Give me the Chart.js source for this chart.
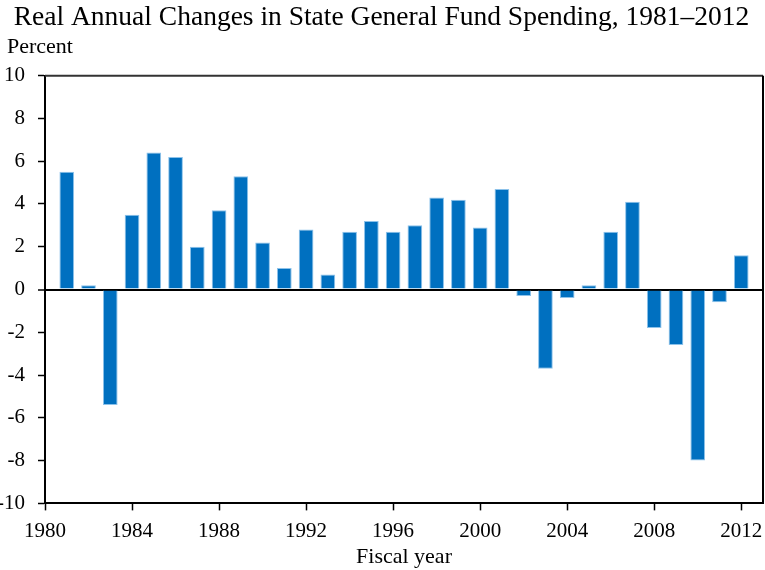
<!DOCTYPE html>
<html>
<head>
<meta charset="utf-8">
<script src="https://cdn.jsdelivr.net/npm/chart.js@4"></script>
<style>
  html, body { margin: 0; padding: 0; background: #fff; }
  #wrap { width: 765px; height: 570px; }
</style>
</head>
<body>
<div id="wrap"><canvas id="spendingChart" width="765" height="570"></canvas></div>
<script>
// fiscal years and real % change in general fund spending
const years = [1981, 1982, 1983, 1984, 1985, 1986, 1987, 1988, 1989, 1990,
               1991, 1992, 1993, 1994, 1995, 1996, 1997, 1998, 1999, 2000,
               2001, 2002, 2003, 2004, 2005, 2006, 2007, 2008, 2009, 2010,
               2011, 2012];
const changes = [5.5, 0.2, -5.4, 3.5, 6.4, 6.2, 2.0, 3.7, 5.3, 2.2,
                 1.0, 2.8, 0.7, 2.7, 3.2, 2.7, 3.0, 4.3, 4.2, 2.9,
                 4.7, -0.3, -3.7, -0.4, 0.2, 2.7, 4.1, -1.8, -2.6, -8.0,
                 -0.6, 1.6];
const xTicks = [1980, 1984, 1988, 1992, 1996, 2000, 2004, 2008, 2012];
const yTicks = [-10, -8, -6, -4, -2, 0, 2, 4, 6, 8, 10];

const serif = 'Liberation Serif, Times New Roman, serif';

// frame lines on top/right of the plot box + the "Percent" unit label
const frameBox = {
    id: 'frameBox',
    afterDraw(chart) {
        const a = chart.chartArea;
        const ctx = chart.ctx;
        ctx.save();
        ctx.strokeStyle = '#333';
        ctx.lineWidth = 2;
        ctx.beginPath();
        ctx.moveTo(a.left, a.top);
        ctx.lineTo(a.right, a.top);
        ctx.stroke();
        ctx.strokeStyle = '#000';
        ctx.beginPath();
        ctx.moveTo(a.right, a.top);
        ctx.lineTo(a.right, a.bottom);
        ctx.stroke();

        ctx.fillStyle = '#000';
        ctx.font = '22px ' + serif;
        ctx.textAlign = 'left';
        ctx.textBaseline = 'alphabetic';
        ctx.fillText('Percent', 7, a.top - 23);
        ctx.restore();
    }
};

const ctx = document.getElementById('spendingChart').getContext('2d');
const spendingChart = new Chart(ctx, {
    type: 'bar',
    data: {
        datasets: [{
            label: 'Real annual change',
            data: years.map((y, i) => ({ x: y, y: changes[i] })),
            backgroundColor: '#0070c0',
            borderColor: '#8cc2ea',
            borderWidth: 1,
            categoryPercentage: 1,
            barPercentage: 0.675
        }]
    },
    options: {
        responsive: false,
        animation: false,
        layout: { padding: { left: 0, right: 2, top: 2, bottom: 0 } },
        plugins: {
            legend: { display: false },
            tooltip: { enabled: false },
            title: {
                display: true,
                text: 'Real Annual Changes in State General Fund Spending, 1981–2012',
                color: '#000',
                font: { family: serif, size: 27.5, weight: 'normal', lineHeight: 1.15 },
                padding: { top: 0, bottom: 42 }
            }
        },
        scales: {
            x: {
                type: 'linear',
                min: 1980,
                max: 2013,
                offset: false,
                afterBuildTicks: axis => { axis.ticks = xTicks.map(v => ({ value: v })); },
                afterFit: axis => { axis.paddingLeft = 0; axis.paddingRight = 0; },
                ticks: {
                    includeBounds: false,
                    autoSkip: false,
                    maxRotation: 0,
                    color: '#000',
                    padding: 8,
                    font: { family: serif, size: 21 },
                    callback: v => String(v)
                },
                grid: {
                    drawOnChartArea: false,
                    offset: false,
                    tickLength: 7,
                    tickColor: '#000',
                    tickWidth: 1.5
                },
                border: { color: '#000', width: 2 },
                title: {
                    display: true,
                    text: 'Fiscal year',
                    color: '#000',
                    font: { family: serif, size: 22 },
                    padding: { top: -8, bottom: 0 }
                }
            },
            y: {
                min: -10,
                max: 10,
                afterBuildTicks: axis => { axis.ticks = yTicks.map(v => ({ value: v })); },
                afterFit: axis => { axis.width = 45; },
                ticks: {
                    color: '#000',
                    padding: 13,
                    font: { family: serif, size: 21 }
                },
                grid: {
                    color: c => (c.tick && c.tick.value === 0) ? '#000' : 'rgba(0,0,0,0)',
                    lineWidth: c => (c.tick && c.tick.value === 0) ? 2 : 1,
                    tickLength: 7,
                    tickColor: '#000',
                    tickWidth: 1.5
                },
                border: { color: '#000', width: 2 }
            }
        }
    },
    plugins: [frameBox]
});
</script>
</body>
</html>
